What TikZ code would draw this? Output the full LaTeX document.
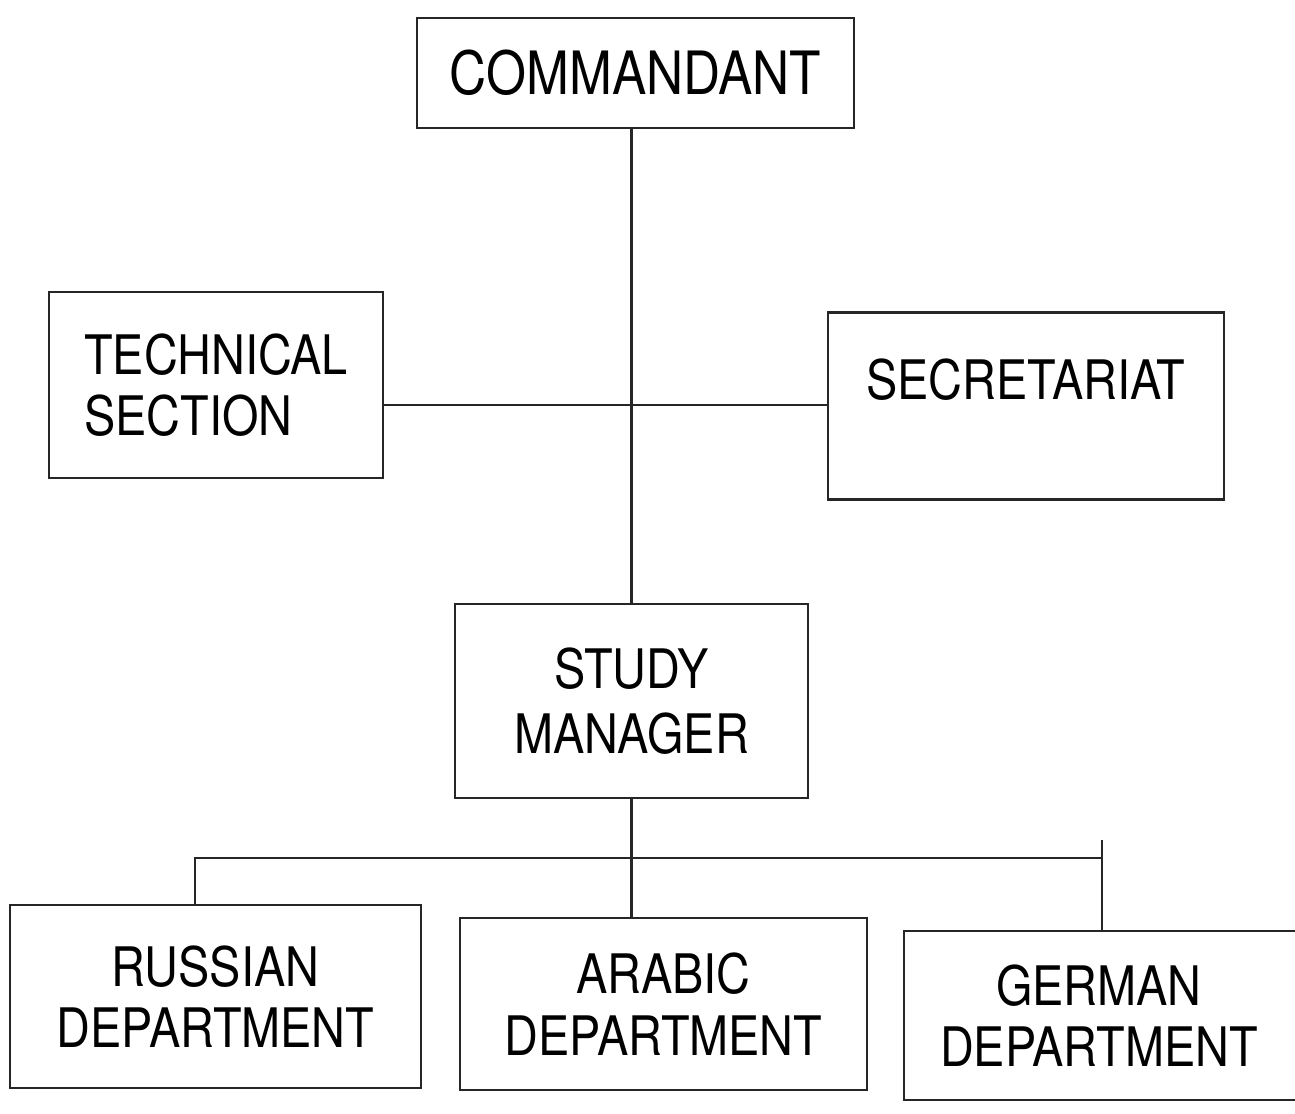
\documentclass[tikz,border=0pt]{standalone}
\usepackage{fontspec}
\setmainfont[FakeStretch=0.86]{TeX Gyre Heros}
\begin{document}
\begin{tikzpicture}[x=0.02cm,y=-0.02cm,
  box/.style={draw=black!85,line width=1.3pt,rectangle,inner sep=0pt,align=center,
    font=\fontsize{31}{35}\selectfont},
  conn/.style={draw=black!85,line width=1.3pt}]
\useasboundingbox[fill=white] (0,0) rectangle (1295,1114);
\node[box,minimum width=8.74cm,minimum height=2.2cm,font=\fontsize{34}{38}\selectfont] (cmd) at (635.5,73) {COMMANDANT};
\node[box,minimum width=6.68cm,minimum height=3.72cm,align=left] (tech) at (216,385) {TECHNICAL\\SECTION};
\node[box,minimum width=7.92cm,minimum height=3.74cm,
  label={[name=seclbl,yshift=0.52cm,font=\fontsize{31}{35}\selectfont]center:SECRETARIAT}] (sec) at (1026,406) {};
\node[box,minimum width=7.06cm,minimum height=3.88cm,font=\fontsize{31}{37}\selectfont] (study) at (631.5,701) {STUDY\\MANAGER};
\node[box,minimum width=8.22cm,minimum height=3.66cm] (rus) at (215.5,996.5) {RUSSIAN\\DEPARTMENT};
\node[box,minimum width=8.14cm,minimum height=3.44cm] (arab) at (663.5,1004) {ARABIC\\DEPARTMENT};
\node[box,minimum width=8.32cm,minimum height=3.38cm,
  label={[name=gerlbl,xshift=-0.26cm,align=center,font=\fontsize{31}{35}\selectfont]center:GERMAN\\DEPARTMENT}] (ger) at (1112,1015.5) {};
\coordinate (h) at (0,405);
\coordinate (tick) at (0,840);
\coordinate (busl) at (195,858);
\coordinate (busr) at (1102,858);
\draw[conn] (study.north |- cmd.south) -- (study.north);
\draw[conn] (tech.east |- h) -- (sec.west |- h);
\draw[conn] (study.south) -- (study.south |- arab.north);
\draw[conn] (busl |- rus.north) -- (busl) -- (busr);
\draw[conn] (busr |- tick) -- (busr |- ger.north);
\end{tikzpicture}
\end{document}
